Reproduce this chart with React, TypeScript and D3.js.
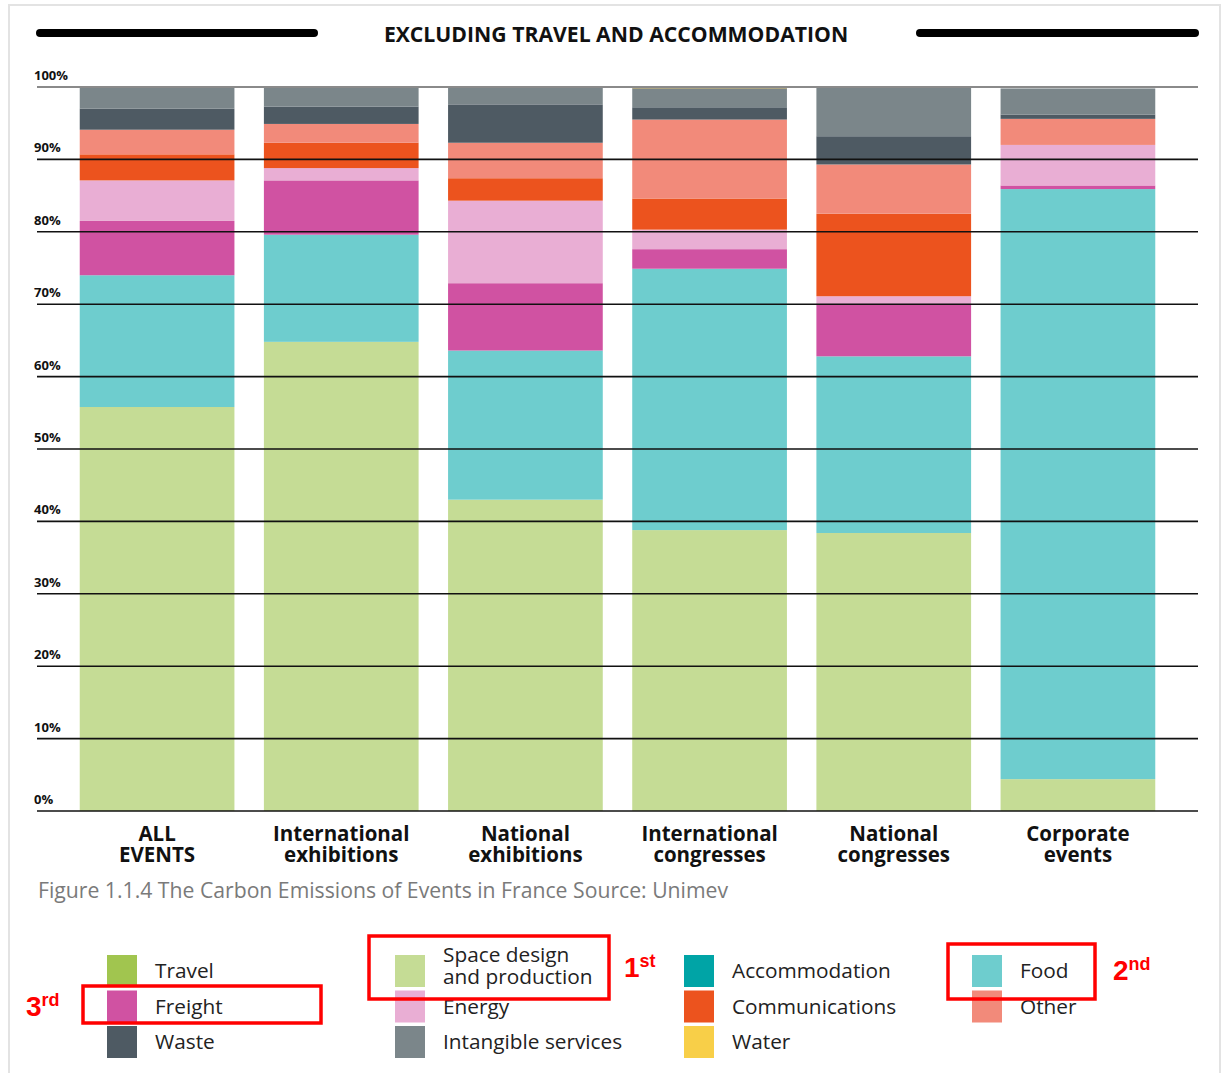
import React from 'react';
import * as d3 from 'd3';

// Categories (x axis)
const categories = [
  ['ALL', 'EVENTS'],
  ['International', 'exhibitions'],
  ['National', 'exhibitions'],
  ['International', 'congresses'],
  ['National', 'congresses'],
  ['Corporate', 'events'],
];

// Series values in % per category, stacked bottom to top
const spaceDesign = [55.8, 64.8, 43.0, 38.8, 38.4, 4.4];
const food = [18.2, 14.8, 20.6, 36.1, 24.4, 81.5];
const freight = [7.5, 7.5, 9.3, 2.7, 7.3, 0.5];
const energy = [5.6, 1.7, 11.4, 2.7, 1.0, 5.6];
const communications = [3.6, 3.5, 3.1, 4.3, 11.4, 0];
const other = [3.4, 2.6, 4.9, 10.9, 6.8, 3.6];
const waste = [2.9, 2.4, 5.3, 1.7, 3.9, 0.6];
const intangible = [2.9, 2.6, 2.3, 2.6, 6.7, 3.6];
const water = [0.1, 0.1, 0.1, 0.1, 0.1, 0];

const yTicks = [0, 10, 20, 30, 40, 50, 60, 70, 80, 90, 100];

const seriesKeys = ['space', 'food', 'freight', 'energy', 'comm', 'other', 'waste', 'intangible', 'water'];
const seriesValues: Record<string, number[]> = {
  space: spaceDesign,
  food: food,
  freight: freight,
  energy: energy,
  comm: communications,
  other: other,
  waste: waste,
  intangible: intangible,
  water: water,
};

const colors: Record<string, string> = {
  travel: '#a1c54f',
  space: '#c5dc95',
  freight: '#d052a2',
  energy: '#e9aed4',
  waste: '#4e5a63',
  intangible: '#7b868a',
  accommodation: '#00a4a6',
  comm: '#ec531e',
  water: '#a08a3c',
  waterLegend: '#f8cf48',
  food: '#6ecdce',
  other: '#f28a7a',
};

// Legend columns
const legendCols = [
  [
    { key: 'travel', label: ['Travel'] },
    { key: 'freight', label: ['Freight'] },
    { key: 'waste', label: ['Waste'] },
  ],
  [
    { key: 'space', label: ['Space design', 'and production'] },
    { key: 'energy', label: ['Energy'] },
    { key: 'intangible', label: ['Intangible services'] },
  ],
  [
    { key: 'accommodation', label: ['Accommodation'] },
    { key: 'comm', label: ['Communications'] },
    { key: 'waterLegend', label: ['Water'] },
  ],
  [
    { key: 'food', label: ['Food'] },
    { key: 'other', label: ['Other'] },
  ],
];

const W = 1230;
const H = 1073;

export default function App() {
  const rows = categories.map((c, i) => {
    const row: Record<string, number | string> = { cat: String(i) };
    seriesKeys.forEach(k => (row[k] = seriesValues[k][i]));
    return row;
  });

  const stack = d3.stack<Record<string, number | string>>().keys(seriesKeys);
  const stacked = stack(rows as any);

  const x = d3
    .scaleBand()
    .domain(categories.map((_, i) => String(i)))
    .range([65, 1170])
    .paddingInner(0.16)
    .paddingOuter(0.08);

  const y = d3.scaleLinear().domain([0, 100]).range([811, 87]);

  const legendX = [107, 395, 684, 972];
  const legendY = 955;
  const swH = 35.5;

  const font = "'Open Sans', 'DejaVu Sans', sans-serif";

  return (
    <svg
      width={W}
      height={H}
      style={{ position: 'absolute', left: 0, top: 0, background: '#fff' }}
      fontFamily={font}
    >
      <rect x={9} y={5} width={1211} height={1080} fill="#fff" stroke="#e3e3e3" strokeWidth={2} />

      {/* Title */}
      <line x1={40} x2={314} y1={33} y2={33} stroke="#000" strokeWidth={8} strokeLinecap="round" />
      <line x1={920} x2={1195} y1={33} y2={33} stroke="#000" strokeWidth={8} strokeLinecap="round" />
      <text x={616} y={42} textAnchor="middle" fontSize={21.2} fontWeight={700} fill="#111">
        EXCLUDING TRAVEL AND ACCOMMODATION
      </text>

      {/* Bars */}
      {stacked.map(s => (
        <g key={s.key} fill={colors[s.key]}>
          {s.map((d, i) => (
            <rect
              key={i}
              x={x(String(i))}
              width={x.bandwidth()}
              y={y(d[1])}
              height={Math.max(0, y(d[0]) - y(d[1]))}
            />
          ))}
        </g>
      ))}

      {/* Grid lines and y labels */}
      {yTicks.map(t => (
        <g key={t}>
          <line
            x1={37}
            x2={1198}
            y1={y(t)}
            y2={y(t)}
            stroke={t === 100 ? '#8a8a8a' : '#111'}
            strokeWidth={t === 100 ? 2 : 1.6}
          />
          <text x={34} y={y(t) - 7} fontSize={13} fontWeight={700} fill="#111">
            {t}%
          </text>
        </g>
      ))}

      {/* Category labels */}
      {categories.map((c, i) => {
        const cx = (x(String(i)) as number) + x.bandwidth() / 2;
        return (
          <g key={i} fontSize={20.5} fontWeight={700} fill="#111" textAnchor="middle">
            <text x={cx} y={841}>{c[0]}</text>
            <text x={cx} y={862}>{c[1]}</text>
          </g>
        );
      })}

      {/* Caption */}
      <text x={38} y={898} fontSize={21.2} fill="#7a7a7a">
        Figure 1.1.4 The Carbon Emissions of Events in France Source: Unimev
      </text>

      {/* Legend */}
      {legendCols.map((col, ci) => (
        <g key={ci}>
          {col.map((item, ri) => {
            const sy = legendY + ri * swH;
            return (
              <g key={item.key}>
                <rect x={legendX[ci]} y={sy} width={30} height={32} fill={colors[item.key]} />
                {item.label.length === 1 ? (
                  <text x={legendX[ci] + 48} y={sy + 23} fontSize={20.8} fill="#222">
                    {item.label[0]}
                  </text>
                ) : (
                  <g fontSize={20.8} fill="#222">
                    <text x={legendX[ci] + 48} y={sy + 7}>{item.label[0]}</text>
                    <text x={legendX[ci] + 48} y={sy + 29}>{item.label[1]}</text>
                  </g>
                )}
              </g>
            );
          })}
        </g>
      ))}

      {/* Annotations */}
      <g fill="none" stroke="#ff0000" strokeWidth={3.5}>
        <rect x={369} y={936} width={240} height={63} />
        <rect x={948} y={944} width={147} height={55} />
        <rect x={83} y={986} width={238} height={37} />
      </g>
      <g fill="#ff0000" fontWeight={700} fontFamily="'Liberation Sans', Arial, sans-serif">
        <text x={624} y={977} fontSize={28}>
          1<tspan fontSize={18} dy={-10}>st</tspan>
        </text>
        <text x={1113} y={980} fontSize={28}>
          2<tspan fontSize={18} dy={-10}>nd</tspan>
        </text>
        <text x={26} y={1016} fontSize={28}>
          3<tspan fontSize={18} dy={-10}>rd</tspan>
        </text>
      </g>
    </svg>
  );
}
